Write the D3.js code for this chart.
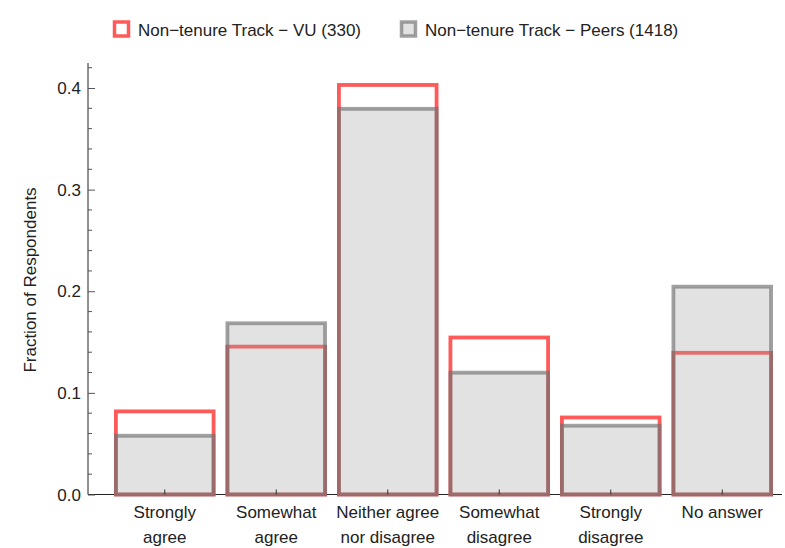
<!DOCTYPE html>
<html>
<head>
<meta charset="utf-8">
<script src="https://cdn.jsdelivr.net/npm/d3@7"></script>
<style>
  body { margin: 0; background: #fff; }
  svg text { font-family: "Liberation Sans", Arial, sans-serif; fill: #222; }
</style>
</head>
<body>
<svg id="chart" width="785" height="548"></svg>
<script>
const categories = [
    ["Strongly", "agree"],
    ["Somewhat", "agree"],
    ["Neither agree", "nor disagree"],
    ["Somewhat", "disagree"],
    ["Strongly", "disagree"],
    ["No answer"]
];
const vuValues = [0.0818, 0.1455, 0.4030, 0.1545, 0.0758, 0.1394];
const peerValues = [0.0578, 0.1685, 0.3795, 0.1199, 0.0677, 0.2045];
const yTicks = [0, 0.1, 0.2, 0.3, 0.4];
const seriesNames = ["Non\u2212tenure Track \u2212 VU (330)", "Non\u2212tenure Track \u2212 Peers (1418)"];

const width = 785,
      height = 548;
const margin = { top: 63, right: 3, bottom: 53.5, left: 88 };
const fs = '17px';
const svg = d3.select('#chart');

const keys = categories.map((d, i) => i);

// x - categories
const x = d3.scaleBand()
    .domain(keys)
    .range([109, 778])
    .paddingInner(0.09)
    .paddingOuter(0.045);

// y - fraction
const y = d3.scaleLinear()
    .domain([0, 0.4246])
    .range([height - margin.bottom, margin.top]);

// axes lines
const base = y(0);
svg.append('line')
    .attr('x1', margin.left).attr('x2', width - margin.right)
    .attr('y1', base).attr('y2', base)
    .attr('stroke', '#222').attr('stroke-width', 1.2);

const yAxisGroup = svg.append('g')
    .attr('transform', `translate(${margin.left},0)`)
    .call(d3.axisRight(y).tickValues(yTicks).tickSize(7).tickFormat(''));
yAxisGroup.select('.domain').attr('stroke', '#222').attr('d', `M0,${y(0.4246)}V${base}`);
yAxisGroup.selectAll('line').attr('stroke', '#555');

// minor ticks
const minor = d3.range(0, 0.421, 0.02).filter(v => Math.abs(v * 10 - Math.round(v * 10)) > 1e-6);
yAxisGroup.selectAll('.minor')
    .data(minor)
    .enter()
    .append('line')
    .attr('x1', 0).attr('x2', 4)
    .attr('y1', d => y(d)).attr('y2', d => y(d))
    .attr('stroke', '#555');

svg.selectAll('.ylabel')
    .data(yTicks)
    .enter()
    .append('text')
    .attr('x', 81)
    .attr('y', d => y(d) + 6)
    .attr('text-anchor', 'end')
    .style('font-size', fs)
    .text(d => d3.format('.1f')(d));

// VU bars (red outline)
const sw = 3.8;
svg.selectAll('.vu')
    .data(keys)
    .enter()
    .append('rect')
    .attr('x', d => x(d) + sw / 2)
    .attr('width', x.bandwidth() - sw)
    .attr('y', d => y(vuValues[d]))
    .attr('height', d => base - y(vuValues[d]))
    .attr('fill', 'none')
    .attr('stroke', '#ff5a5a')
    .attr('stroke-width', sw);

// Peer bars (gray, translucent)
svg.selectAll('.peer')
    .data(keys)
    .enter()
    .append('rect')
    .attr('x', d => x(d) + sw / 2)
    .attr('width', x.bandwidth() - sw)
    .attr('y', d => y(peerValues[d]))
    .attr('height', d => base - y(peerValues[d]))
    .attr('fill', 'rgba(160,160,160,0.3)')
    .attr('stroke', 'rgba(110,110,110,0.65)')
    .attr('stroke-width', sw);

// x ticks
svg.selectAll('.xtick')
    .data(keys)
    .enter()
    .append('line')
    .attr('x1', d => x(d) + x.bandwidth() / 2)
    .attr('x2', d => x(d) + x.bandwidth() / 2)
    .attr('y1', base).attr('y2', base - 5)
    .attr('stroke', '#333');

const xl = svg.selectAll('.xlabel')
    .data(keys)
    .enter()
    .append('text')
    .attr('text-anchor', 'middle')
    .style('font-size', fs);
xl.selectAll('tspan')
    .data(d => categories[d].map(t => ({ t, c: x(d) + x.bandwidth() / 2 })))
    .enter()
    .append('tspan')
    .attr('x', d => d.c)
    .attr('y', (d, i) => 518 + i * 25)
    .text(d => d.t);

// y label
svg.append('text')
    .attr('transform', `translate(36,280) rotate(-90)`)
    .attr('text-anchor', 'middle')
    .style('font-size', fs)
    .text('Fraction of Respondents');

// legend
const legend = svg.append('g');
legend.append('rect')
    .attr('x', 114.5).attr('y', 22).attr('width', 14).attr('height', 14)
    .attr('fill', '#fff').attr('stroke', '#ff5a5a').attr('stroke-width', 3.5);
legend.append('text')
    .attr('x', 138).attr('y', 36)
    .style('font-size', fs)
    .text(seriesNames[0]);
legend.append('rect')
    .attr('x', 401.5).attr('y', 22).attr('width', 14).attr('height', 14)
    .attr('fill', 'rgba(160,160,160,0.3)').attr('stroke', 'rgba(110,110,110,0.65)').attr('stroke-width', 3.5);
legend.append('text')
    .attr('x', 425).attr('y', 36)
    .style('font-size', fs)
    .text(seriesNames[1]);
</script>
</body>
</html>
